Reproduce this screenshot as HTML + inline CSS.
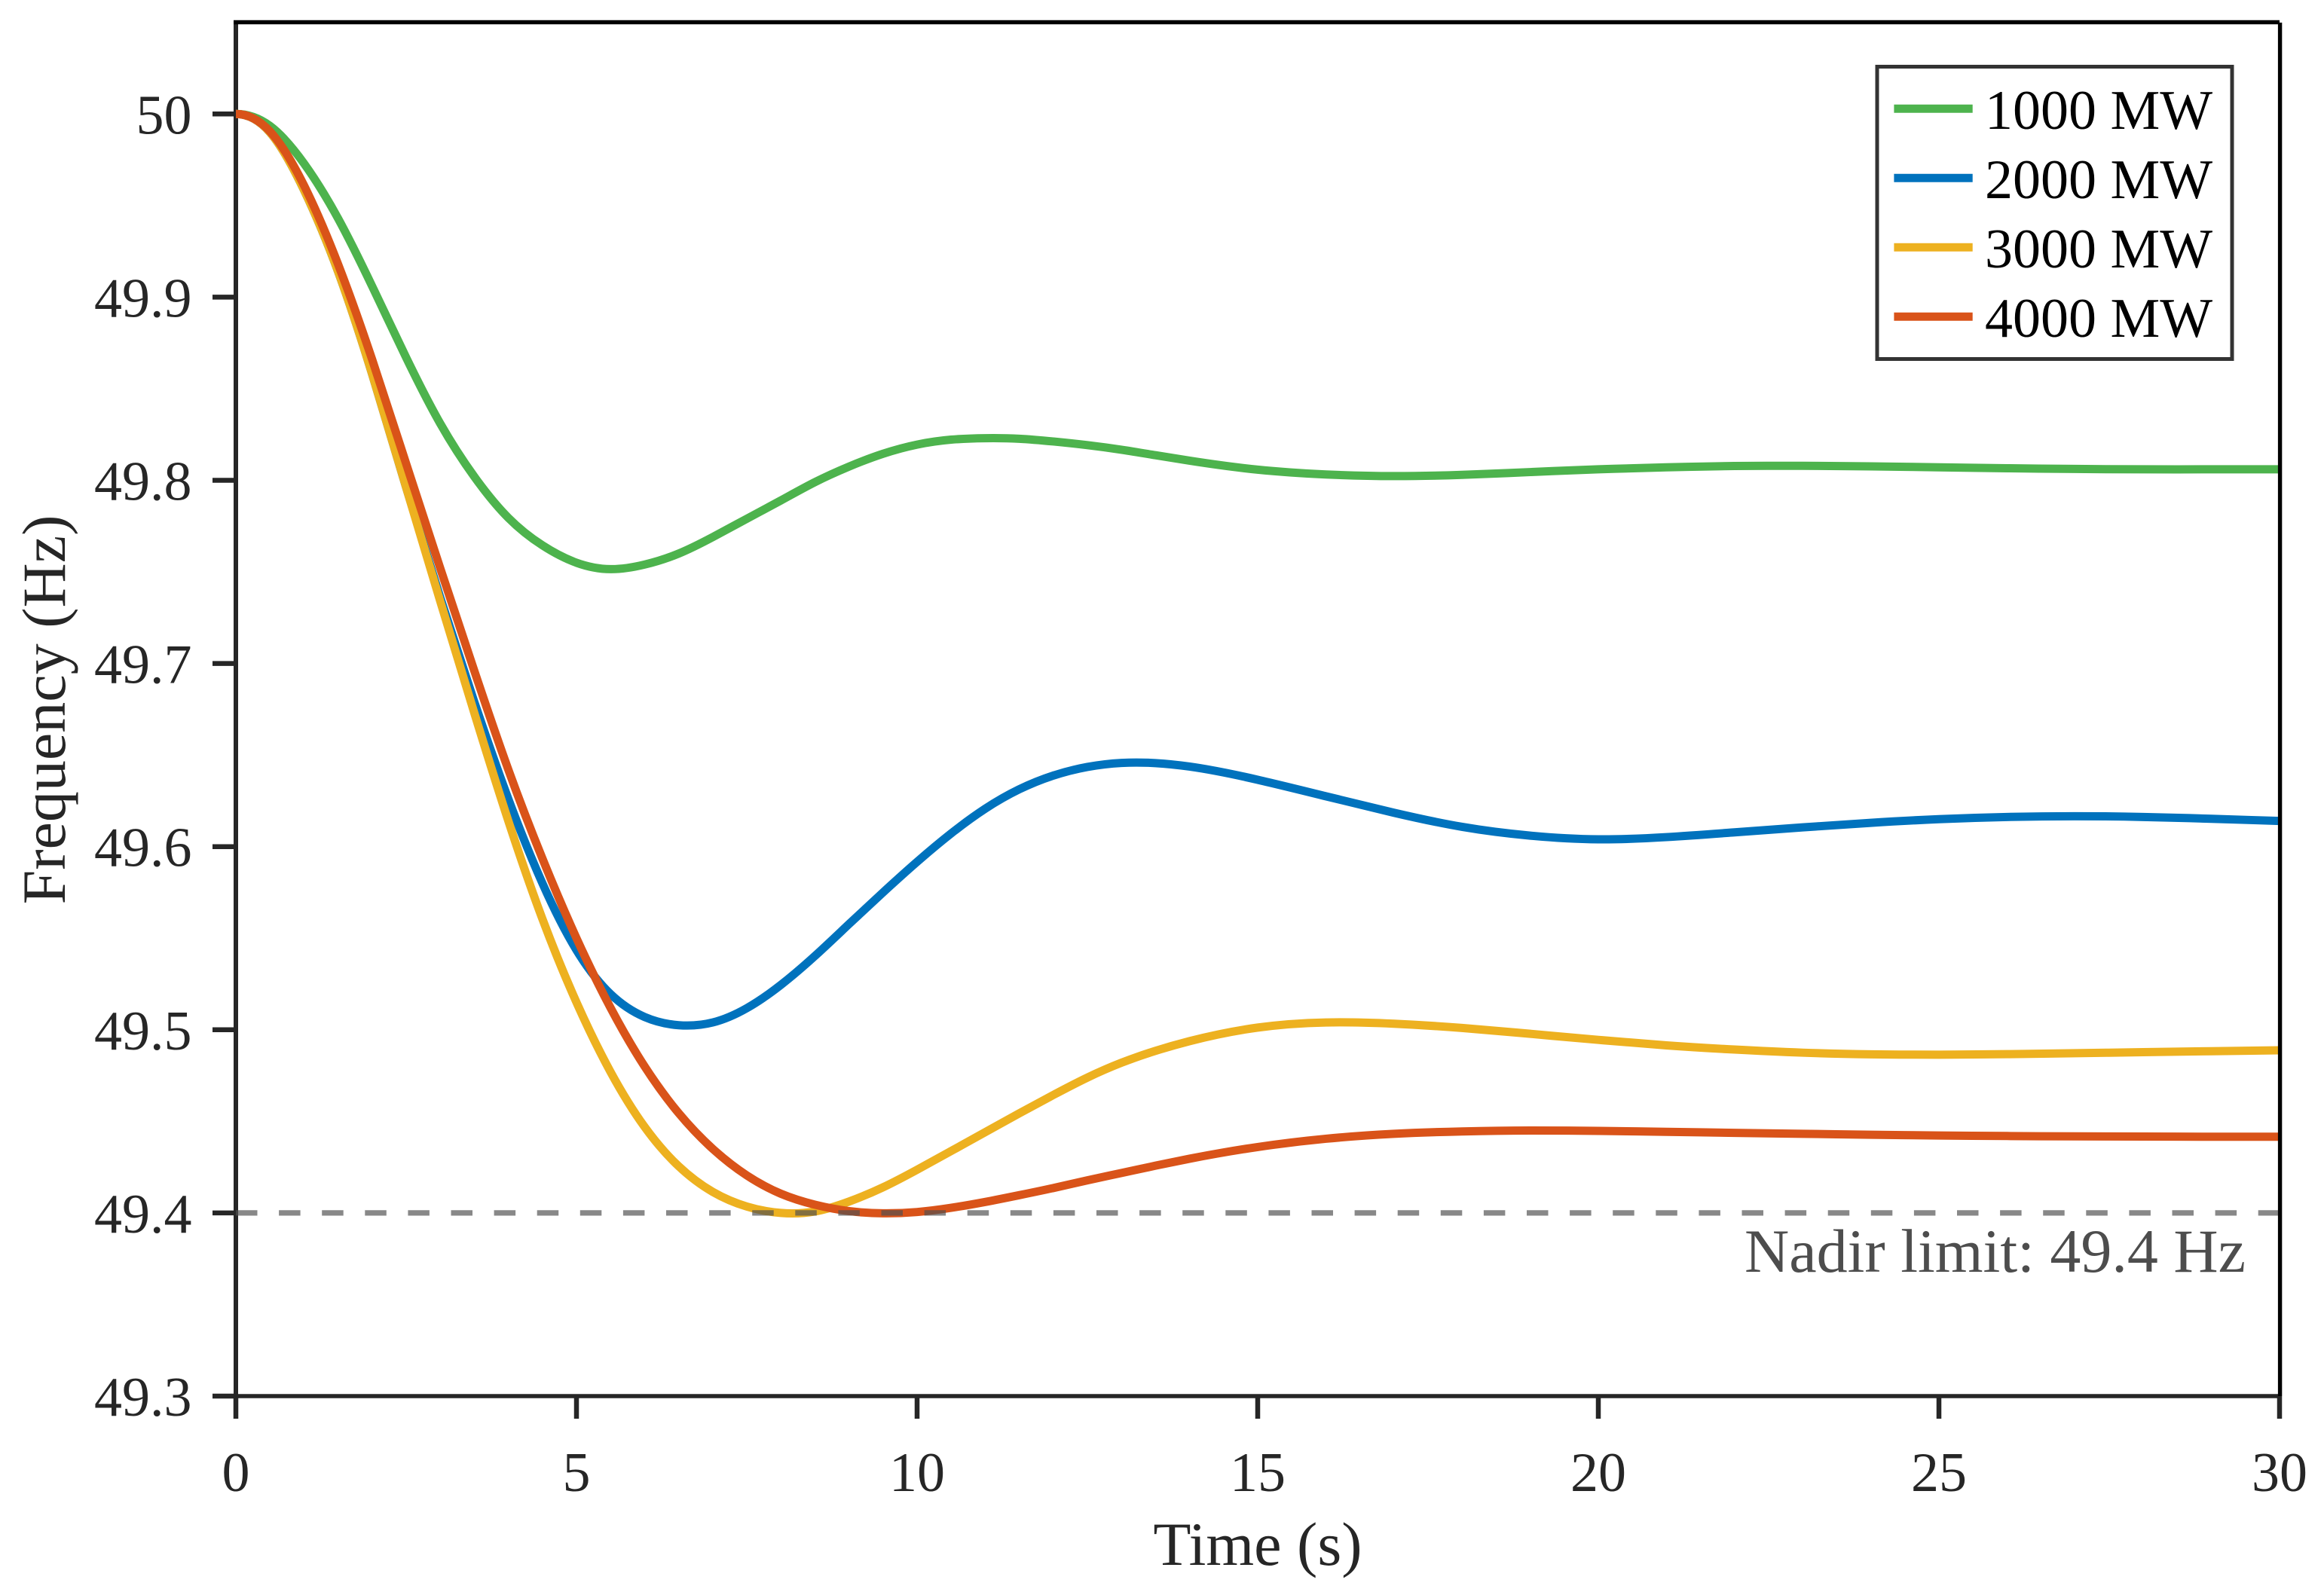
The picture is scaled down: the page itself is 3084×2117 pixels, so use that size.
<!DOCTYPE html>
<html lang="en">
<head>
<meta charset="utf-8">
<title>Frequency response</title>
<style>
html,body{margin:0;padding:0;background:#fff;}
svg{display:block;}
text{font-family:"Liberation Serif","Times New Roman",serif;}
</style>
</head>
<body>
<svg id="chart" xmlns="http://www.w3.org/2000/svg" width="3084" height="2117" viewBox="0 0 3084 2117">
  <rect x="0" y="0" width="3084" height="2117" fill="#ffffff"/>
  <g id="axes-back"></g>
  <g id="series-layer"></g>
  <g id="axes-front"></g>
  <text x="1669" y="2077" font-size="82" text-anchor="middle" fill="#262626">Time (s)</text>
  <text transform="translate(86 942) rotate(-90)" font-size="82" text-anchor="middle" fill="#262626">Frequency (Hz)</text>
  <text x="2315" y="1688" font-size="82" fill="#4d4d4d">Nadir limit: 49.4 Hz</text>
  <g id="legend">
    <rect x="2491" y="88.5" width="471" height="388" fill="#ffffff" stroke="#333333" stroke-width="5"/>
  </g>
</svg>
<script>
const times = [0,0.5,1,1.5,2,2.5,3,3.5,4,4.5,5,5.5,6,6.5,7,7.5,8,8.5,9,9.5,10,10.5,11,11.5,12,12.5,13,13.5,14,15,16,17,18,19,20,21,22,23,24,25,26,27,28,29,30];
const series1000 = [50,49.9935,49.973,49.943,49.906,49.867,49.831,49.802,49.7795,49.7645,49.755,49.7515,49.7540,49.7600,49.769,49.779,49.789,49.799,49.8075,49.8145,49.8195,49.8222,49.823,49.8227,49.8212,49.8192,49.8167,49.8137,49.8107,49.8058,49.8032,49.8023,49.8030,49.8045,49.8060,49.8071,49.8078,49.8079,49.8076,49.8071,49.8066,49.8062,49.806,49.806,49.806];
const series2000 = [50,49.990,49.9585,49.914,49.858,49.796,49.736,49.679,49.626,49.580,49.5435,49.5195,49.507,49.5025,49.5040,49.5118,49.5245,49.5403,49.5577,49.5750,49.5917,49.6072,49.6207,49.6313,49.6388,49.6435,49.6457,49.6456,49.6437,49.6365,49.6275,49.6185,49.6108,49.6060,49.6040,49.6052,49.6078,49.6105,49.6130,49.6150,49.6162,49.6166,49.6162,49.6152,49.6140];
const series3000 = [50,49.990,49.9585,49.914,49.858,49.796,49.734,49.673,49.614,49.5605,49.515,49.477,49.447,49.4255,49.4115,49.4035,49.400,49.4008,49.4062,49.4140,49.4236,49.4338,49.4441,49.4544,49.4644,49.4739,49.4820,49.4885,49.4938,49.5012,49.5040,49.5033,49.5010,49.4978,49.4945,49.4915,49.4892,49.4875,49.4866,49.4864,49.4867,49.4872,49.4878,49.4883,49.4888];
const series4000 = [50,49.9905,49.961,49.918,49.866,49.809,49.752,49.696,49.642,49.5935,49.550,49.512,49.480,49.4545,49.435,49.4205,49.4105,49.4045,49.401,49.3998,49.4005,49.4028,49.406,49.4097,49.4136,49.4178,49.4218,49.4258,49.4296,49.436,49.4405,49.4432,49.4445,49.445,49.4448,49.4443,49.4437,49.4432,49.4427,49.4423,49.442,49.4418,49.4417,49.4416,49.4416];
const seriesNames = ["1000 MW","2000 MW","3000 MW","4000 MW"];
const xTickValues = [0,5,10,15,20,25,30];
const yTickValues = [50,49.9,49.8,49.7,49.6,49.5,49.4,49.3];
const yTickLabels = ["50","49.9","49.8","49.7","49.6","49.5","49.4","49.3"];
const nadirLimit = 49.4;

const seriesColors = ["#4db34d","#0072bd","#edb120","#d95319"];
const SVGNS = "http://www.w3.org/2000/svg";
function xScale(t){ return 313 + t * 90.4; }
function yScale(f){ return 151.3 + (50 - f) * 2431; }

function make(tag, attrs, parent, txt){
  const el = document.createElementNS(SVGNS, tag);
  for (const k in attrs) el.setAttribute(k, attrs[k]);
  if (txt !== undefined) el.textContent = txt;
  parent.appendChild(el);
  return el;
}

/* C2 cubic spline through the data points, flat at t=0, natural at the end */
function smoothPath(ts, vs){
  const px = ts.map(xScale), py = vs.map(yScale);
  const n = px.length, h = [], s = [];
  for (let i = 0; i < n - 1; i++){
    h.push(px[i+1] - px[i]);
    s.push((py[i+1] - py[i]) / h[i]);
  }
  const a = new Array(n).fill(0), b = new Array(n).fill(0), c = new Array(n).fill(0), r = new Array(n).fill(0);
  b[0] = 1; c[0] = 0; r[0] = 0;
  for (let i = 1; i < n - 1; i++){
    a[i] = h[i];
    b[i] = 2 * (h[i-1] + h[i]);
    c[i] = h[i-1];
    r[i] = 3 * (h[i] * s[i-1] + h[i-1] * s[i]);
  }
  a[n-1] = 1; b[n-1] = 2; r[n-1] = 3 * s[n-2];
  for (let i = 1; i < n; i++){
    const w = a[i] / b[i-1];
    b[i] -= w * c[i-1];
    r[i] -= w * r[i-1];
  }
  const m = new Array(n);
  m[n-1] = r[n-1] / b[n-1];
  for (let i = n - 2; i >= 0; i--) m[i] = (r[i] - c[i] * m[i+1]) / b[i];
  let d = "M" + px[0].toFixed(2) + " " + py[0].toFixed(2);
  for (let i = 0; i < n - 1; i++){
    d += "C" + (px[i] + h[i]/3).toFixed(2) + " " + (py[i] + m[i]*h[i]/3).toFixed(2) + " " +
         (px[i+1] - h[i]/3).toFixed(2) + " " + (py[i+1] - m[i+1]*h[i]/3).toFixed(2) + " " +
         px[i+1].toFixed(2) + " " + py[i+1].toFixed(2);
  }
  return d;
}

const back = document.getElementById("axes-back");
const front = document.getElementById("axes-front");
const layer = document.getElementById("series-layer");
const legend = document.getElementById("legend");
const AXIS = "#262626";
const yBottom = yScale(49.3), xLeft = xScale(0), xRight = xScale(30);

yTickValues.forEach(function(v, i){
  const tick = make("line", {x1:282, x2:xLeft, y1:yScale(v), y2:yScale(v), stroke:AXIS, "stroke-width":6.5}, back);
  
  
  const lab = make("text", {x:254.5, y:yScale(v)+26, "font-size":74, "text-anchor":"end", fill:AXIS}, back, yTickLabels[i]);
  
  
});
xTickValues.forEach(function(v){
  const tick = make("line", {x1:xScale(v), x2:xScale(v), y1:yBottom, y2:1883, stroke:AXIS, "stroke-width":6.5}, back);
  
  
  const lab = make("text", {x:xScale(v), y:1979, "font-size":74, "text-anchor":"middle", fill:AXIS}, back, String(v));
  
  
});
const leftSpine = make("line", {x1:xLeft, x2:xLeft, y1:27, y2:yBottom+2.7, stroke:AXIS, "stroke-width":6}, back);


const bottomSpine = make("line", {x1:xLeft-3, x2:xRight+3, y1:yBottom, y2:yBottom, stroke:AXIS, "stroke-width":5.6}, back);



const allSeries = [series1000, series2000, series3000, series4000];
allSeries.forEach(function(vals, i){
  const p = make("path", {d:smoothPath(times, vals), fill:"none", stroke:seriesColors[i], "stroke-width":11, "stroke-linejoin":"round", "stroke-linecap":"butt"}, layer);
  
  
});

const nadir = make("line", {x1:xLeft, x2:xRight-2, y1:yScale(nadirLimit), y2:yScale(nadirLimit), stroke:"#4f4f4f", "stroke-opacity":0.68, "stroke-width":7.2, "stroke-dasharray":"28.5 28.6"}, front);


const topSpine = make("line", {x1:310, x2:3025, y1:29.5, y2:29.5, stroke:"#000000", "stroke-width":5.6}, front);


const rightSpine = make("line", {x1:3025.6, x2:3025.6, y1:30, y2:yBottom, stroke:"#000000", "stroke-width":5.4}, front);



seriesNames.forEach(function(name, i){
  const key = name.replace(' ', '-').toLowerCase();
  const ly = 144.3 + 92 * i;
  const sw = make("line", {x1:2513.4, x2:2617.7, y1:ly, y2:ly, stroke:seriesColors[i], "stroke-width":11}, legend);
  
  
  const tx = make("text", {x:2634, y:ly+26.7, "font-size":74, fill:"#000000"}, legend, name);
  
  
});
</script>
</body>
</html>
